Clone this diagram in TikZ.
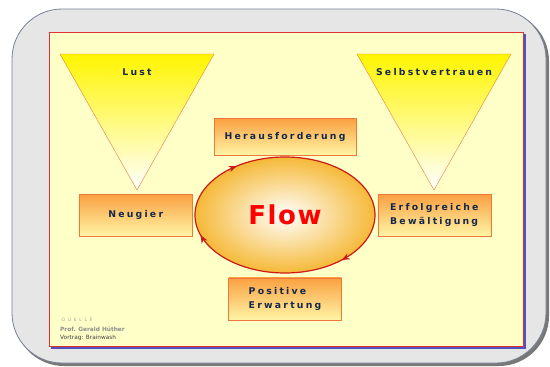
\documentclass[tikz,border=0pt]{standalone}
\usepackage{fontspec}
\setmainfont{DejaVu Sans}
\setsansfont{DejaVu Sans}
\newfontfamily\spacedfont[LetterSpace=24]{DejaVu Sans}
\newfontfamily\flowfont[LetterSpace=6]{DejaVu Sans}
\newfontfamily\quellefont[LetterSpace=60]{DejaVu Sans}
\usepackage{tikz}
\usetikzlibrary{positioning, arrows.meta, shapes.geometric, decorations.markings}
\definecolor{frameGray}{RGB}{230, 230, 230}
\definecolor{frameLine}{RGB}{120, 130, 150}
\definecolor{frameShade}{RGB}{120, 120, 120}
\definecolor{panelYellow}{RGB}{255, 255, 200}
\definecolor{panelRed}{RGB}{225, 50, 50}
\definecolor{panelBlue}{RGB}{80, 80, 190}
\definecolor{triYellow}{RGB}{255, 245, 0}
\definecolor{triMid}{RGB}{255, 252, 190}
\definecolor{triLine}{RGB}{240, 120, 60}
\definecolor{boxTop}{RGB}{250, 160, 65}
\definecolor{boxBot}{RGB}{255, 245, 165}
\definecolor{boxLine}{RGB}{240, 120, 60}
\definecolor{txtNavy}{RGB}{20, 40, 75}
\definecolor{flowRed}{RGB}{205, 25, 25}
\definecolor{flowOrange}{RGB}{245, 185, 55}
\definecolor{quelleGray}{RGB}{140, 140, 140}

\begin{document}
\begin{tikzpicture}[x=1pt, y=-1pt, font=\sffamily,
    box/.style={draw=boxLine, top color=boxTop, bottom color=boxBot, minimum width=113pt, minimum height=42pt,
        inner sep=0pt, align=left, font=\spacedfont\bfseries\fontsize{9.3}{13.5}\selectfont\color{txtNavy}},
    trilabel/.style={font=\spacedfont\bfseries\fontsize{9.3}{10}\selectfont\color{txtNavy}}]
        \useasboundingbox (0,0) rectangle (550,367);
        \fill[white] (0,0) rectangle (550,367);
        % outer frame with shadow
        \fill[frameShade, rounded corners=50pt] (14,11) rectangle (549,366);
        \draw[frameLine, fill=frameGray, line width=0.8pt, rounded corners=50pt] (12,9) rectangle (546,363);
        % yellow panel
        \fill[panelBlue] (51,34) rectangle (526,349);
        \draw[panelRed, fill=panelYellow, line width=1pt] (49,32) rectangle (523,346);
        % triangles
        \coordinate (lustL) at (60,54);
        \coordinate (lustR) at (214,54);
        \coordinate (lustB) at (137,190);
        \path[draw=triLine, top color=triYellow, middle color=triMid, bottom color=white] (lustL) -- (lustR) -- (lustB) -- cycle;
        \node[trilabel] (lust) at (137,72) {Lust};
        \coordinate (selbL) at (357,54);
        \coordinate (selbR) at (511,54);
        \coordinate (selbB) at (434,190);
        \path[draw=triLine, top color=triYellow, middle color=triMid, bottom color=white] (selbL) -- (selbR) -- (selbB) -- cycle;
        \node[trilabel] (selbst) at (434,72) {Selbstvertrauen};
        % flow cycle
        \node[ellipse, draw=flowRed, line width=1.2pt, inner color=white, outer color=flowOrange,
            minimum width=180pt, minimum height=116pt, font=\flowfont\bfseries\fontsize{26}{26}\selectfont\color{red},
            postaction={decorate, decoration={markings,
                mark=at position 0.355 with {\arrowreversed[flowRed]{Stealth[length=8pt, width=6.5pt]}},
                mark=at position 0.545 with {\arrowreversed[flowRed]{Stealth[length=8pt, width=6.5pt]}},
                mark=at position 0.875 with {\arrowreversed[flowRed]{Stealth[length=8pt, width=6.5pt]}}}}]
            (flow) at (285,215) {Flow};
        \node[box, minimum width=142pt, minimum height=37pt, above=1pt of flow] (heraus) {Herausforderung};
        \node[box, left=2pt of flow] (neugier) {Neugier};
        \node[box, right=2pt of flow] (erfolg) {Erfolgreiche\\Bewältigung};
        \node[box, below=4pt of flow] (positiv) {Positive\\Erwartung};
        % source
        \node[anchor=west, font=\quellefont\fontsize{4.5}{5}\selectfont\color{quelleGray!80}] (quelle) at (58,320) {QUELLE};
        \node[anchor=west, font=\bfseries\fontsize{5.8}{6}\selectfont\color{quelleGray}, inner sep=0pt] (prof) at (60,329) {Prof. Gerald Hüther};
        \node[anchor=west, font=\fontsize{5.8}{6}\selectfont\color{black!75}, inner sep=0pt] (vortrag) at (60,338) {Vortrag: Brainwash};
    \end{tikzpicture}
\end{document}
